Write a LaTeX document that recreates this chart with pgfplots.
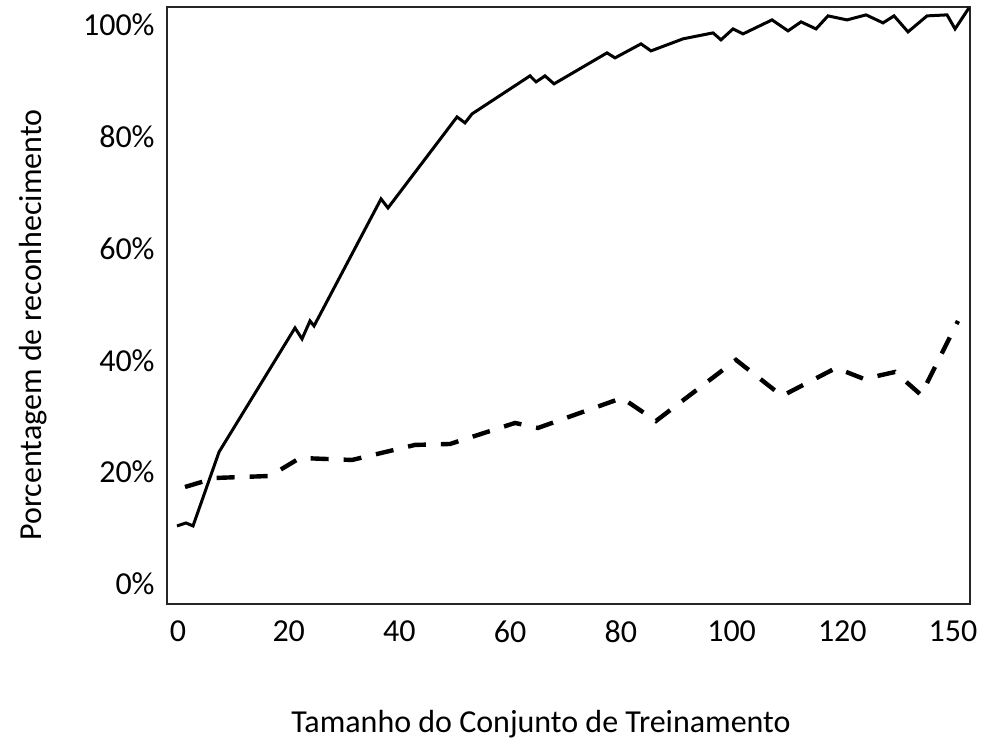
\documentclass[border=0pt]{standalone}
\usepackage{fontspec}
\setmainfont{Carlito}
\usepackage{pgfplots}
\pgfplotsset{compat=1.18}
\begin{document}
\fontsize{16}{19}\selectfont
\begin{tikzpicture}[x=1pt,y=1pt]
\useasboundingbox (0,0) rectangle (490.5,372);
\begin{axis}[
  at={(83.5pt,70pt)}, anchor=south west,
  width=401.5pt, height=298.5pt, scale only axis,
  xmin=-1.99, xmax=143.06, ymin=-3.58, ymax=103.2,
  axis line style={line width=0.8pt, black!85},
  major tick length=0pt, minor tick num=0,
  xtick={0,20,40,60,80,100,120,140},
  xticklabels={0,20,40,60,80,100,120,150},
  ytick={0,20,40,60,80,100},
  yticklabels={0\%,20\%,40\%,60\%,80\%,100\%},
  xticklabel style={inner sep=0pt, anchor=north, font=\fontsize{16}{19}\selectfont},
  yticklabel style={inner sep=0pt, anchor=east, font=\fontsize{16}{19}\selectfont},
  xticklabel shift=8pt, yticklabel shift=6pt,
  clip=false,
]
\addplot[black, line width=1.5pt, line join=miter] coordinates {
(-0.18,10.38) (1.45,10.91) (2.71,10.38) (7.41,23.61) (21.13,45.80) (22.40,43.83)
(23.84,47.05) (24.57,46.15) (36.67,68.87) (37.93,67.26) (50.40,83.54) (51.84,82.47)
(53.11,84.08) (63.58,90.88) (64.67,89.80) (66.29,90.88) (67.92,89.45) (77.49,94.99)
(78.94,94.10) (83.63,96.60) (85.44,95.35) (91.22,97.50) (96.64,98.57) (98.08,97.32)
(100.25,99.28) (102.06,98.39) (107.30,100.89) (110.19,98.93) (112.54,100.54)
(115.25,99.28) (117.41,101.61) (120.85,100.89) (124.28,101.79) (127.35,100.36)
(129.34,101.61) (131.86,98.75) (135.30,101.61) (138.91,101.79) (140.36,99.28)
(142.88,103.04)
};
\addplot[black, line width=2.2pt, dash pattern=on 9pt off 7.5pt] coordinates {
(1.26,17.35) (6.68,18.96) (16.62,19.32) (22.04,22.54) (31.43,22.18) (42.81,24.87)
(49.13,25.04) (60.87,28.80) (65.03,27.91) (80.20,33.27) (86.34,29.16) (100.80,40.07)
(109.10,33.63) (118.86,38.64) (123.92,36.67) (129.52,37.92) (134.22,33.81) (140.90,47.05)
};
\end{axis}
\node[rotate=90, inner sep=0pt] at (16.5,209.5) {Porcentagem de reconhecimento};
\node[inner sep=0pt] at (270.5,10) {Tamanho do Conjunto de Treinamento};
\end{tikzpicture}
\end{document}
